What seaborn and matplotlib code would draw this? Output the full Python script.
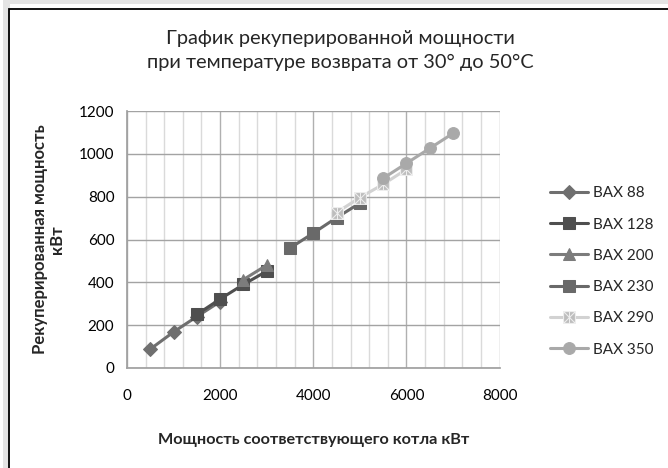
import numpy as np
import pandas as pd
import seaborn as sns
import matplotlib.pyplot as plt
from matplotlib.path import Path
from matplotlib.patches import Rectangle
from matplotlib.ticker import MultipleLocator

# values (kW)
bax88_x = [500, 1000, 1500, 2000]
bax88_y = [88, 168, 240, 310]
bax128_x = [1500, 2000, 2500, 3000]
bax128_y = [250, 322, 390, 452]
bax200_x = [2500, 3000]
bax200_y = [413, 480]
bax230_x = [3500, 4000, 4500, 5000]
bax230_y = [560, 630, 702, 770]
bax290_x = [4500, 5000, 5500, 6000]
bax290_y = [726, 796, 858, 928]
bax350_x = [5500, 6000, 6500, 7000]
bax350_y = [886, 956, 1026, 1096]

names = ["BAX 88", "BAX 128", "BAX 200", "BAX 230", "BAX 290", "BAX 350"]
xs = [bax88_x, bax128_x, bax200_x, bax230_x, bax290_x, bax350_x]
ys = [bax88_y, bax128_y, bax200_y, bax230_y, bax290_y, bax350_y]

df = pd.concat([pd.DataFrame({"x": x, "y": y, "model": n}) for n, x, y in zip(names, xs, ys)])

sns.set_theme(style="white")
plt.rcParams['font.family'] = ['Lato', 'DejaVu Sans']

# square with an asterisk inside (Excel style marker)
star_box = Path(
    [(-1, -1), (1, -1), (1, 1), (-1, 1), (-1, -1),
     (-1, -1), (1, 1), (-1, 1), (1, -1), (0, -1), (0, 1)],
    [Path.MOVETO, Path.LINETO, Path.LINETO, Path.LINETO, Path.CLOSEPOLY,
     Path.MOVETO, Path.LINETO, Path.MOVETO, Path.LINETO, Path.MOVETO, Path.LINETO])

palette = {"BAX 88": "#6f6f6f", "BAX 128": "#4f4f4f", "BAX 200": "#7c7c7c",
           "BAX 230": "#696969", "BAX 290": "#d2d2d2", "BAX 350": "#a9a9a9"}
markers = {"BAX 88": "D", "BAX 128": "s", "BAX 200": "^",
           "BAX 230": "s", "BAX 290": star_box, "BAX 350": "o"}

fig = plt.figure(figsize=(6.68, 4.68), dpi=100)
ax = fig.add_axes([0.190, 0.2137, 0.558, 0.549])

# chart frame (runs off the right and bottom edges) with a soft shadow
fig.patches.append(Rectangle((0.0085, -0.1), 1.2, 1.1, transform=fig.transFigure,
                             fill=False, edgecolor="#e4e4e4", lw=5, zorder=0))
fig.patches.append(Rectangle((0.0135, -0.1), 1.2, 1.0815, transform=fig.transFigure,
                             fill=False, edgecolor="black", lw=1.3, zorder=1))

sns.lineplot(data=df, x="x", y="y", hue="model", style="model", hue_order=names,
             style_order=names, palette=palette, markers=markers, dashes=False,
             lw=2.2, markersize=8.5, ax=ax, sort=False)
for line in ax.lines:
    if line.get_color() == "#d2d2d2":
        line.set_markeredgecolor("#eeeeee")
        line.set_markerfacecolor("#bdbdbd")
    elif line.get_marker() != "None":
        line.set_markeredgecolor(line.get_color())
    if line.get_marker() == "D":
        line.set_markersize(7)

ax.set_xlim(0, 8000)
ax.set_ylim(0, 1200)
ax.xaxis.set_major_locator(MultipleLocator(2000))
ax.xaxis.set_minor_locator(MultipleLocator(400))
ax.yaxis.set_major_locator(MultipleLocator(200))
ax.grid(True, which="major", axis="y", color="#a3a3a3", lw=1)
ax.grid(True, which="major", axis="x", color="#b0b0b0", lw=1)
ax.grid(True, which="minor", axis="x", color="#dadada", lw=1)
ax.set_axisbelow(True)
for s in ["top", "right"]:
    ax.spines[s].set_visible(False)
for s in ["left", "bottom"]:
    ax.spines[s].set_color("#a0a0a0")
ax.tick_params(axis="both", which="major", direction="out", length=5, width=1,
               color="#a0a0a0", labelsize=11, pad=4, labelcolor="black")
ax.tick_params(axis="x", which="major", pad=10)
ax.tick_params(axis="x", which="minor", length=0)

ax.set_xlabel("Мощность соответствующего котла кВт", fontsize=11.7,
              fontweight="bold", labelpad=22)
ax.set_ylabel("Рекуперированная мощность\nкВт", fontsize=12,
              fontweight="bold", labelpad=10, linespacing=1.1)

fig.suptitle("График рекуперированной мощности\nпри температуре возврата от 30° до 50°C",
             x=0.51, y=0.935, fontsize=14.4, linespacing=1.45)

handles, labels = ax.get_legend_handles_labels()
ax.legend(handles, labels, loc="center left", bbox_to_anchor=(0.823, 0.42),
          bbox_transform=fig.transFigure, frameon=False, fontsize=11,
          handlelength=2.5, handletextpad=0.33, labelspacing=1.13,
          borderpad=0, borderaxespad=0)

fig.savefig("out.png", dpi=100)
